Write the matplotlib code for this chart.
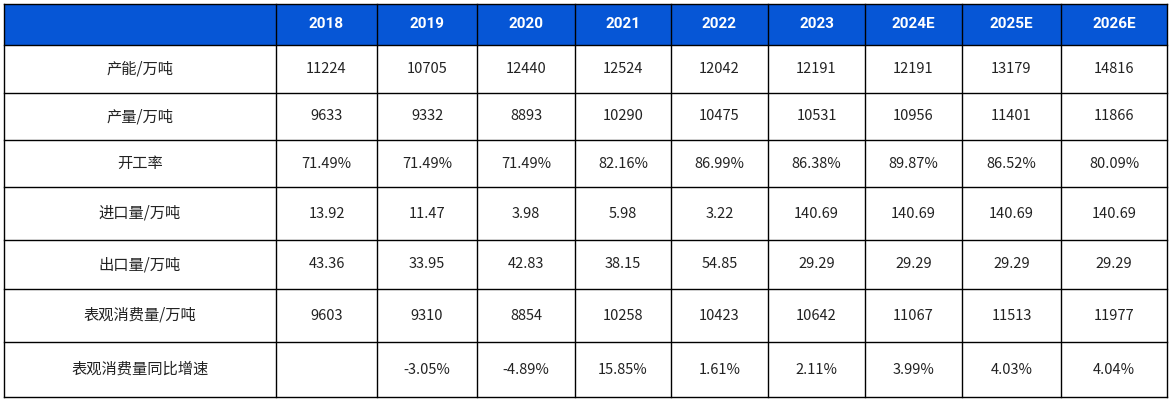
import matplotlib.pyplot as plt
from matplotlib.patches import Rectangle

plt.rcParams['font.family'] = ['Noto Sans CJK SC', 'DejaVu Sans']

# Table content.
years = ['2018', '2019', '2020', '2021', '2022', '2023', '2024E', '2025E', '2026E']
row_labels = ['产能/万吨', '产量/万吨', '开工率', '进口量/万吨', '出口量/万吨',
              '表观消费量/万吨', '表观消费量同比增速']
capacity = ['11224', '10705', '12440', '12524', '12042', '12191', '12191', '13179', '14816']
output = ['9633', '9332', '8893', '10290', '10475', '10531', '10956', '11401', '11866']
utilization = ['71.49%', '71.49%', '71.49%', '82.16%', '86.99%', '86.38%', '89.87%', '86.52%', '80.09%']
imports = ['13.92', '11.47', '3.98', '5.98', '3.22', '140.69', '140.69', '140.69', '140.69']
exports = ['43.36', '33.95', '42.83', '38.15', '54.85', '29.29', '29.29', '29.29', '29.29']
consumption = ['9603', '9310', '8854', '10258', '10423', '10642', '11067', '11513', '11977']
consumption_yoy = ['', '-3.05%', '-4.89%', '15.85%', '1.61%', '2.11%', '3.99%', '4.03%', '4.04%']
rows = [capacity, output, utilization, imports, exports, consumption, consumption_yoy]

# Layout in pixels.
col_edges = [4, 276, 377, 477, 575, 671, 768, 865, 962, 1061, 1167]
row_edges = [4, 45, 93, 140, 187, 240, 289, 342, 397]
header_color = '#0656D6'

fig = plt.figure(figsize=(11.72, 4.03), dpi=100)
ax = fig.add_axes([0, 0, 1, 1])
ax.set_xlim(0, 1172)
ax.set_ylim(403, 0)
ax.axis('off')

# Header band.
ax.add_patch(Rectangle((col_edges[0], row_edges[0]), col_edges[-1] - col_edges[0],
                       row_edges[1] - row_edges[0], facecolor=header_color, edgecolor='none'))

# Grid lines.
for y in row_edges:
    ax.plot([col_edges[0], col_edges[-1]], [y, y], color='black', lw=1.0)
for x in col_edges:
    ax.plot([x, x], [row_edges[0], row_edges[-1]], color='black', lw=1.0)

# Header text.
for j, yr in enumerate(years):
    xc = (col_edges[j + 1] + col_edges[j + 2]) / 2
    yc = (row_edges[0] + row_edges[1]) / 2
    ax.text(xc, yc, yr, ha='center', va='center', color='white',
            fontsize=11, fontweight='bold', family=['Roboto', 'DejaVu Sans'])

# Body text.
for i, label in enumerate(row_labels):
    yc = (row_edges[i + 1] + row_edges[i + 2]) / 2
    xc = (col_edges[0] + col_edges[1]) / 2
    ax.text(xc, yc, label, ha='center', va='center', color='#222222', fontsize=11)
    for j, val in enumerate(rows[i]):
        xc = (col_edges[j + 1] + col_edges[j + 2]) / 2
        ax.text(xc, yc, val, ha='center', va='center', color='#222222', fontsize=10.5)

fig.savefig('out.png', dpi=100)
